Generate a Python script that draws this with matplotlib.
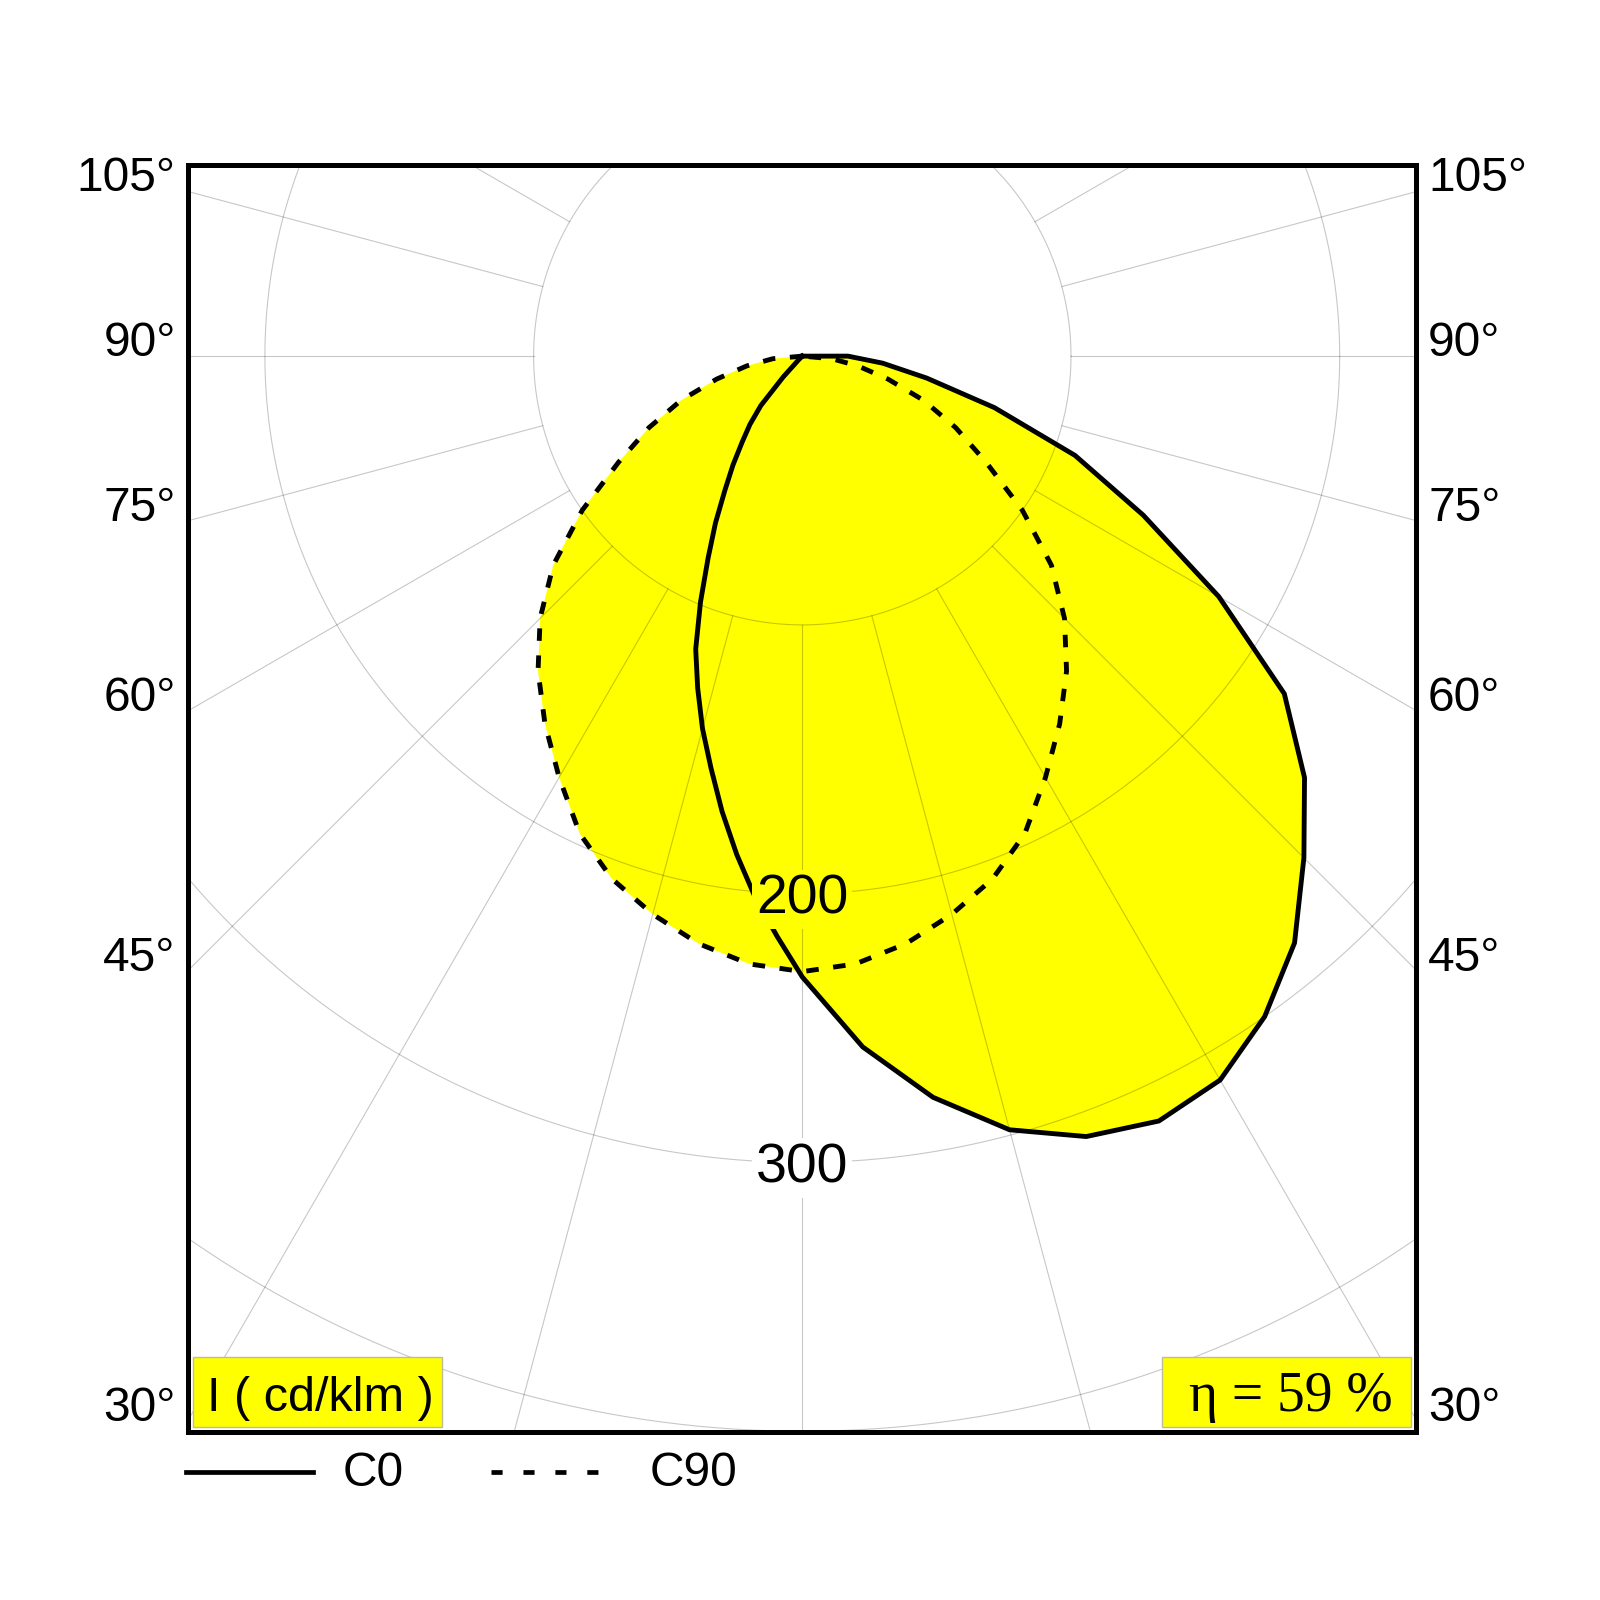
import numpy as np
import matplotlib
matplotlib.use("Agg")
import matplotlib.pyplot as plt
from matplotlib.patches import Rectangle
from matplotlib.lines import Line2D

plt.rcParams['font.family'] = ['Liberation Sans', 'DejaVu Sans']
plt.rcParams['lines.scale_dashes'] = False

# --- DATA ---
# gamma = angle from nadir in degrees
gamma = np.arange(0, 95, 5)
gamma_fine = np.arange(0, 92.5, 2.5)
# luminous intensity in cd/klm
c0 = [231, 258, 280, 298, 309, 314, 311, 300, 285, 264, 244, 219, 179, 140, 108, 74, 47, 30, 17]
c180 = [231, 216, 202, 187, 172, 157, 143.5, 129.5, 116, 99, 83, 70, 57.6, 48, 39, 32, 24, 10.5,
        2, 0, 0, 0, 0, 0, 0, 0, 0, 0, 0, 0, 0, 0, 0, 0, 0, 0, 0]
c90 = [229, 227, 222, 215, 207, 196, 181, 167, 153, 138, 121, 100, 79, 63, 48, 33, 21, 11, 0]
c270 = [229, 227, 222, 215, 207, 196, 181, 167, 153, 138, 121, 100, 79, 63, 48, 33, 21, 11, 0]

rings = [100, 200, 300, 400]
ring_labels = [200, 300]
angle_ticks = [105, 90, 75, 60, 45, 30]
eta = 59
unit_label = "I ( cd/klm )"

YELLOW = '#ffff00'
W = H = 1600.0


def to_xy(r, g, side):
    g = np.radians(np.asarray(g, dtype=float))
    r = np.asarray(r, dtype=float)
    return side * r * np.sin(g), -r * np.cos(g)


def px(x, y):
    # pixel (from top-left) -> figure fraction
    return x / W, 1 - y / H


fig = plt.figure(figsize=(16, 16), dpi=100)
ax = fig.add_axes([187.8 / W, 1 - 1432.3 / H, 1228.2 / W, 1267.0 / H])
xmin, xmax = -228.7, 228.4
ymin, ymax = -400.4, 71.0
ax.set_xlim(xmin, xmax)
ax.set_ylim(ymin, ymax)
ax.set_xticks([])
ax.set_yticks([])
for sp in ax.spines.values():
    sp.set_linewidth(3.6)
    sp.set_zorder(10)

# --- build the two curves ---
lx, ly = to_xy(c180[::-1], gamma_fine[::-1], -1)
rx, ry = to_xy(c0, gamma, 1)
c0_x = np.concatenate([lx, rx, [0]])
c0_y = np.concatenate([ly, ry, [0]])

lx, ly = to_xy(c270[::-1], gamma[::-1], -1)
rx, ry = to_xy(c90, gamma, 1)
c90_x = np.concatenate([lx, rx])
c90_y = np.concatenate([ly, ry])

ax.fill(c0_x, c0_y, color=YELLOW, lw=0, zorder=1)
ax.fill(c90_x, c90_y, color=YELLOW, lw=0, zorder=1)

# --- polar grid ---
t = np.linspace(0, 2 * np.pi, 721)
for r in rings:
    ax.plot(r * np.cos(t), r * np.sin(t), color='black', alpha=0.22, lw=0.8, zorder=2)
for a in range(0, 360, 15):
    gx, gy = to_xy([rings[0], 700], [a, a], 1)
    ax.plot(gx, gy, color='black', alpha=0.22, lw=0.8, zorder=2)

# --- curves ---
ax.plot(c0_x, c0_y, color='black', lw=3.5, solid_joinstyle='round', zorder=3)
ax.plot(c90_x, c90_y, color='black', lw=3.5, dashes=(9, 10.5), zorder=3)

# --- ring labels ---
for r in ring_labels:
    face = YELLOW if r == 200 else 'white'
    ax.text(0, -r - 7.4, str(r), ha='center', va='baseline', fontsize=40,
            bbox=dict(fc=face, ec='none', pad=3), zorder=6)

# --- angle labels on both sides ---
for a in angle_ticks:
    ya = -abs(xmin) / np.tan(np.radians(a)) if a != 90 else 0.0
    ax.text(xmin - 4.5, ya, f"{a}°", ha='right', va='baseline', fontsize=34.5, clip_on=False)
    ax.text(xmax + 4.5, ya, f"{a}°", ha='left', va='baseline', fontsize=34.5, clip_on=False)

# --- yellow info boxes ---
x0, y0 = px(193.3, 1427.3)
ax.add_patch(Rectangle((x0, y0), 248.4 / W, 70 / H, transform=fig.transFigure,
                       fc=YELLOW, ec='#bdbd9a', lw=1, zorder=7))
fig.text(*px(320.8, 1411), unit_label, ha='center', va='baseline', fontsize=35, zorder=8)

x0, y0 = px(1161.7, 1427.3)
ax.add_patch(Rectangle((x0, y0), 249 / W, 70 / H, transform=fig.transFigure,
                       fc=YELLOW, ec='#bdbd9a', lw=1, zorder=7))
fig.text(*px(1290.5, 1411), f"η = {eta} %", ha='center', va='baseline', fontsize=40,
         family=['Liberation Serif', 'DejaVu Serif'], zorder=8)

# --- legend below the frame ---
fig.add_artist(Line2D([186 / W, 313 / W], [1 - 1472 / H] * 2, color='black', lw=3.4))
fig.text(*px(343, 1486), "C0", ha='left', va='baseline', fontsize=34.5)
fig.add_artist(Line2D([491 / W, 601 / W], [1 - 1472 / H] * 2, color='black', lw=3.4,
                      dashes=(8, 15)))
fig.text(*px(650, 1486), "C90", ha='left', va='baseline', fontsize=34.5)

fig.savefig("out.png", dpi=100, facecolor='white')
